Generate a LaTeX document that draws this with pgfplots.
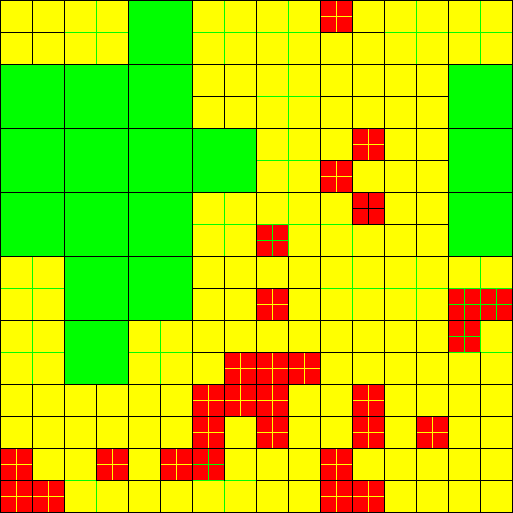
\documentclass[border=0pt]{standalone}
\usepackage{pgfplots}
\pgfplotsset{compat=1.18}
\definecolor{cellY}{RGB}{255,255,0}
\definecolor{cellG}{RGB}{0,255,0}
\definecolor{cellR}{RGB}{255,0,0}

\begin{document}
\begin{tikzpicture}
\begin{axis}[
    hide axis, scale only axis,
    width=384.75pt, height=384.75pt,
    xmin=-0.03125, xmax=32.03125, ymin=-0.03125, ymax=32.03125,
    y dir=reverse, clip=false,
    unbounded coords=jump,
]
% background level-1 cells
\addplot[fill=cellY, draw=none] coordinates {(0,0) (32,0) (32,32) (0,32)};
% coarse cells
\addplot[fill=cellG, draw=none] coordinates {
  (8,0) (12,0) (12,8) (16,8) (16,12) (12,12) (12,20) (8,20) (8,24)
  (4,24) (4,16) (0,16) (0,4) (8,4)};
\addplot[fill=cellG, draw=none] coordinates {(28,4) (32,4) (32,16) (28,16)};
% fine cells
\addplot[fill=cellR, draw=none] coordinates {
  (20,0) (22,0) (22,2) (20,2) (nan,nan)
  (22,8) (24,8) (24,10) (22,10) (nan,nan)
  (20,10) (22,10) (22,12) (20,12) (nan,nan)
  (22,12) (24,12) (24,14) (22,14) (nan,nan)
  (16,14) (18,14) (18,16) (16,16) (nan,nan)
  (16,18) (18,18) (18,20) (16,20) (nan,nan)
  (28,18) (32,18) (32,20) (28,20) (nan,nan)
  (28,20) (30,20) (30,22) (28,22) (nan,nan)
  (14,22) (20,22) (20,24) (14,24) (nan,nan)
  (12,24) (18,24) (18,26) (12,26) (nan,nan)
  (22,24) (24,24) (24,28) (22,28) (nan,nan)
  (12,26) (14,26) (14,28) (12,28) (nan,nan)
  (16,26) (18,26) (18,28) (16,28) (nan,nan)
  (26,26) (28,26) (28,28) (26,28) (nan,nan)
  (0,28) (2,28) (2,32) (0,32) (nan,nan)
  (2,30) (4,30) (4,32) (2,32) (nan,nan)
  (6,28) (8,28) (8,30) (6,30) (nan,nan)
  (10,28) (14,28) (14,30) (10,30) (nan,nan)
  (20,28) (22,28) (22,32) (20,32) (nan,nan)
  (22,30) (24,30) (24,32) (22,32)};

% yellow edges inside fine cells
\addplot[draw=cellY, line width=0.75pt] coordinates {
  (21,0) (21,2) (nan,nan) (23,8) (23,10) (nan,nan) (21,10) (21,12) (nan,nan)
  (17,18) (17,20) (nan,nan) (15,22) (15,26) (nan,nan) (17,22) (17,28) (nan,nan)
  (19,22) (19,24) (nan,nan) (13,24) (13,28) (nan,nan) (23,24) (23,28) (nan,nan)
  (27,26) (27,28) (nan,nan) (1,28) (1,32) (nan,nan) (7,28) (7,30) (nan,nan)
  (11,28) (11,30) (nan,nan) (21,28) (21,32) (nan,nan) (3,30) (3,32) (nan,nan)
  (23,30) (23,32) (nan,nan)
  (20,1) (22,1) (nan,nan) (22,9) (24,9) (nan,nan) (20,11) (22,11) (nan,nan)
  (16,19) (18,19) (nan,nan) (14,23) (20,23) (nan,nan) (12,25) (18,25) (nan,nan)
  (22,25) (24,25) (nan,nan) (12,27) (14,27) (nan,nan) (16,27) (18,27) (nan,nan)
  (22,27) (24,27) (nan,nan) (26,27) (28,27) (nan,nan) (0,29) (2,29) (nan,nan)
  (6,29) (8,29) (nan,nan) (10,29) (12,29) (nan,nan) (20,29) (22,29) (nan,nan)
  (0,31) (4,31) (nan,nan) (20,31) (24,31)};

% green edges
\addplot[draw=cellG, line width=0.75pt] coordinates {
  (6,0) (6,4) (nan,nan) (6,30) (6,32) (nan,nan)
  (14,0) (14,4) (nan,nan) (14,12) (14,16) (nan,nan) (14,30) (14,32) (nan,nan)
  (18,0) (18,16) (nan,nan)
  (26,0) (26,4) (nan,nan) (26,16) (26,20) (nan,nan)
  (30,0) (30,4) (nan,nan) (30,16) (30,22) (nan,nan)
  (2,16) (2,24) (nan,nan) (10,20) (10,24) (nan,nan) (22,14) (22,20) (nan,nan)
  (4,2) (8,2) (nan,nan) (12,2) (20,2) (nan,nan) (24,2) (32,2) (nan,nan)
  (16,6) (20,6) (nan,nan) (16,10) (20,10) (nan,nan) (12,14) (22,14) (nan,nan)
  (0,18) (4,18) (nan,nan) (20,18) (32,18) (nan,nan)
  (0,22) (4,22) (nan,nan) (8,22) (12,22) (nan,nan) (28,22) (32,22) (nan,nan)
  (4,30) (6,30) (nan,nan) (12,30) (16,30) (nan,nan)
  (17,14) (17,16) (nan,nan) (16,15) (18,15) (nan,nan)
  (29,18) (29,22) (nan,nan) (31,18) (31,20) (nan,nan)
  (28,19) (32,19) (nan,nan) (28,21) (30,21) (nan,nan)
  (13,28) (13,30) (nan,nan) (12,29) (14,29)};

% black edges
\addplot[draw=black, line width=0.75pt, line cap=rect] coordinates {
  (2,0) (2,4) (nan,nan) (2,24) (2,32) (nan,nan)
  (6,24) (6,30) (nan,nan) (10,24) (10,32) (nan,nan)
  (14,4) (14,8) (nan,nan) (14,16) (14,30) (nan,nan)
  (18,16) (18,32) (nan,nan)
  (22,0) (22,14) (nan,nan) (22,20) (22,32) (nan,nan)
  (26,4) (26,16) (nan,nan) (26,20) (26,32) (nan,nan)
  (30,22) (30,32) (nan,nan)
  (0,2) (4,2) (nan,nan) (20,2) (24,2) (nan,nan)
  (12,6) (16,6) (nan,nan) (20,6) (28,6) (nan,nan)
  (20,10) (28,10) (nan,nan) (22,14) (28,14) (nan,nan)
  (12,18) (20,18) (nan,nan) (12,22) (28,22) (nan,nan)
  (0,26) (32,26) (nan,nan)
  (0,30) (4,30) (nan,nan) (6,30) (12,30) (nan,nan) (16,30) (32,30) (nan,nan)
  (23,12) (23,14) (nan,nan) (22,13) (24,13)};
\addplot[draw=black, line width=0.75pt, line cap=rect] coordinates {
  (0,0) (0,32) (nan,nan) (4,0) (4,32) (nan,nan) (8,0) (8,32) (nan,nan)
  (12,0) (12,32) (nan,nan) (16,0) (16,32) (nan,nan) (20,0) (20,32) (nan,nan)
  (24,0) (24,32) (nan,nan) (28,0) (28,32) (nan,nan) (32,0) (32,32) (nan,nan)
  (0,0) (32,0) (nan,nan) (0,4) (32,4) (nan,nan) (0,8) (32,8) (nan,nan)
  (0,12) (32,12) (nan,nan) (0,16) (32,16) (nan,nan) (0,20) (32,20) (nan,nan)
  (0,24) (32,24) (nan,nan) (0,28) (32,28) (nan,nan) (0,32) (32,32)};
\end{axis}
\end{tikzpicture}
\end{document}
